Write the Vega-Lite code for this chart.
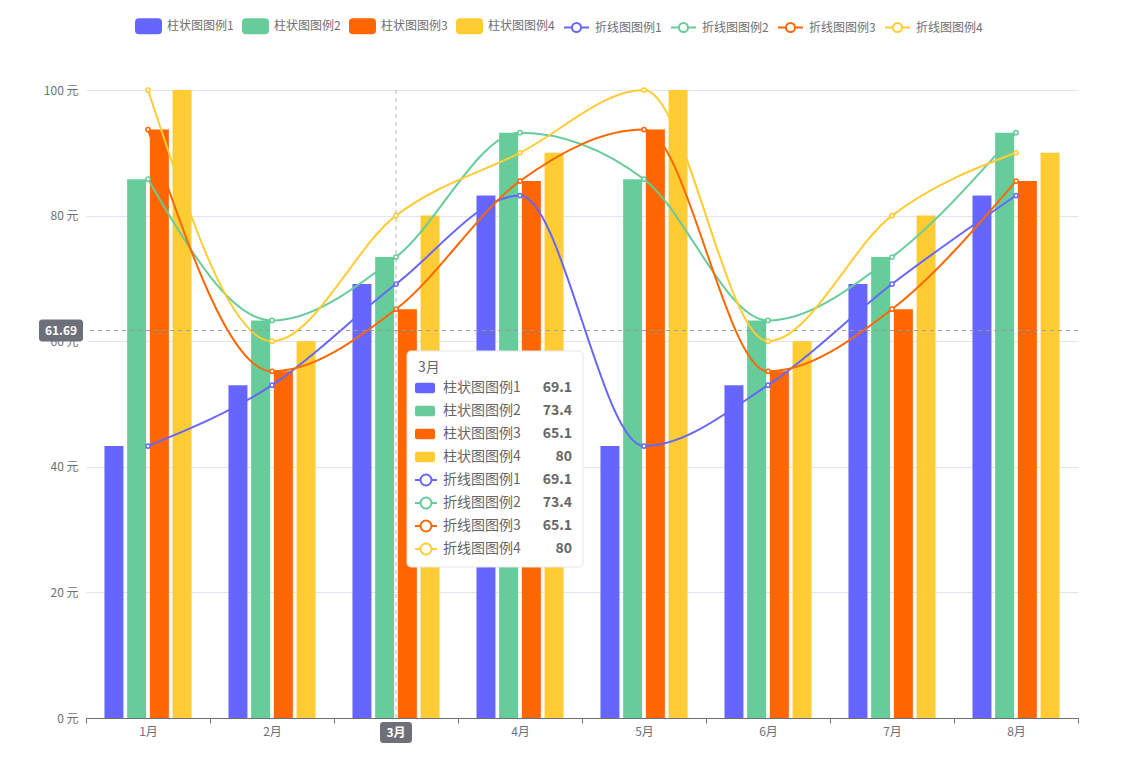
{
  "$schema": "https://vega.github.io/schema/vega-lite/v6.json",
  "width": 992,
  "height": 628,
  "autosize": {"type": "none"},
  "padding": {"left": 86, "top": 90, "right": 58, "bottom": 49},
  "background": "#ffffff",
  "config": {
    "view": {"stroke": null},
    "font": "Noto Sans CJK SC",
    "text": {"font": "Noto Sans CJK SC"},
    "axis": {"labelFont": "Noto Sans CJK SC"},
    "legend": {"labelFont": "Noto Sans CJK SC"}
  },
  "datasets": {
    "main": [
      {"month": "1月", "kind": "bar", "series": "柱状图图例1", "value": 43.3},
      {"month": "1月", "kind": "bar", "series": "柱状图图例2", "value": 85.8},
      {"month": "1月", "kind": "bar", "series": "柱状图图例3", "value": 93.7},
      {"month": "1月", "kind": "bar", "series": "柱状图图例4", "value": 100},
      {"month": "1月", "kind": "line", "series": "折线图图例1", "value": 43.3},
      {"month": "1月", "kind": "line", "series": "折线图图例2", "value": 85.8},
      {"month": "1月", "kind": "line", "series": "折线图图例3", "value": 93.7},
      {"month": "1月", "kind": "line", "series": "折线图图例4", "value": 100},
      {"month": "2月", "kind": "bar", "series": "柱状图图例1", "value": 53},
      {"month": "2月", "kind": "bar", "series": "柱状图图例2", "value": 63.3},
      {"month": "2月", "kind": "bar", "series": "柱状图图例3", "value": 55.2},
      {"month": "2月", "kind": "bar", "series": "柱状图图例4", "value": 60},
      {"month": "2月", "kind": "line", "series": "折线图图例1", "value": 53},
      {"month": "2月", "kind": "line", "series": "折线图图例2", "value": 63.3},
      {"month": "2月", "kind": "line", "series": "折线图图例3", "value": 55.2},
      {"month": "2月", "kind": "line", "series": "折线图图例4", "value": 60},
      {"month": "3月", "kind": "bar", "series": "柱状图图例1", "value": 69.1},
      {"month": "3月", "kind": "bar", "series": "柱状图图例2", "value": 73.4},
      {"month": "3月", "kind": "bar", "series": "柱状图图例3", "value": 65.1},
      {"month": "3月", "kind": "bar", "series": "柱状图图例4", "value": 80},
      {"month": "3月", "kind": "line", "series": "折线图图例1", "value": 69.1},
      {"month": "3月", "kind": "line", "series": "折线图图例2", "value": 73.4},
      {"month": "3月", "kind": "line", "series": "折线图图例3", "value": 65.1},
      {"month": "3月", "kind": "line", "series": "折线图图例4", "value": 80},
      {"month": "4月", "kind": "bar", "series": "柱状图图例1", "value": 83.2},
      {"month": "4月", "kind": "bar", "series": "柱状图图例2", "value": 93.2},
      {"month": "4月", "kind": "bar", "series": "柱状图图例3", "value": 85.5},
      {"month": "4月", "kind": "bar", "series": "柱状图图例4", "value": 90},
      {"month": "4月", "kind": "line", "series": "折线图图例1", "value": 83.2},
      {"month": "4月", "kind": "line", "series": "折线图图例2", "value": 93.2},
      {"month": "4月", "kind": "line", "series": "折线图图例3", "value": 85.5},
      {"month": "4月", "kind": "line", "series": "折线图图例4", "value": 90},
      {"month": "5月", "kind": "bar", "series": "柱状图图例1", "value": 43.3},
      {"month": "5月", "kind": "bar", "series": "柱状图图例2", "value": 85.8},
      {"month": "5月", "kind": "bar", "series": "柱状图图例3", "value": 93.7},
      {"month": "5月", "kind": "bar", "series": "柱状图图例4", "value": 100},
      {"month": "5月", "kind": "line", "series": "折线图图例1", "value": 43.3},
      {"month": "5月", "kind": "line", "series": "折线图图例2", "value": 85.8},
      {"month": "5月", "kind": "line", "series": "折线图图例3", "value": 93.7},
      {"month": "5月", "kind": "line", "series": "折线图图例4", "value": 100},
      {"month": "6月", "kind": "bar", "series": "柱状图图例1", "value": 53},
      {"month": "6月", "kind": "bar", "series": "柱状图图例2", "value": 63.3},
      {"month": "6月", "kind": "bar", "series": "柱状图图例3", "value": 55.2},
      {"month": "6月", "kind": "bar", "series": "柱状图图例4", "value": 60},
      {"month": "6月", "kind": "line", "series": "折线图图例1", "value": 53},
      {"month": "6月", "kind": "line", "series": "折线图图例2", "value": 63.3},
      {"month": "6月", "kind": "line", "series": "折线图图例3", "value": 55.2},
      {"month": "6月", "kind": "line", "series": "折线图图例4", "value": 60},
      {"month": "7月", "kind": "bar", "series": "柱状图图例1", "value": 69.1},
      {"month": "7月", "kind": "bar", "series": "柱状图图例2", "value": 73.4},
      {"month": "7月", "kind": "bar", "series": "柱状图图例3", "value": 65.1},
      {"month": "7月", "kind": "bar", "series": "柱状图图例4", "value": 80},
      {"month": "7月", "kind": "line", "series": "折线图图例1", "value": 69.1},
      {"month": "7月", "kind": "line", "series": "折线图图例2", "value": 73.4},
      {"month": "7月", "kind": "line", "series": "折线图图例3", "value": 65.1},
      {"month": "7月", "kind": "line", "series": "折线图图例4", "value": 80},
      {"month": "8月", "kind": "bar", "series": "柱状图图例1", "value": 83.2},
      {"month": "8月", "kind": "bar", "series": "柱状图图例2", "value": 93.2},
      {"month": "8月", "kind": "bar", "series": "柱状图图例3", "value": 85.5},
      {"month": "8月", "kind": "bar", "series": "柱状图图例4", "value": 90},
      {"month": "8月", "kind": "line", "series": "折线图图例1", "value": 83.2},
      {"month": "8月", "kind": "line", "series": "折线图图例2", "value": 93.2},
      {"month": "8月", "kind": "line", "series": "折线图图例3", "value": 85.5},
      {"month": "8月", "kind": "line", "series": "折线图图例4", "value": 90}
    ],
    "pointer": [{"month": "3月", "level": 61.69}]
  },
  "data": {"name": "main"},
  "resolve": {"scale": {"y": "independent"}},
  "layer": [
    {
      "layer": [
        {
          "transform": [{"filter": "datum.kind == 'bar'"}],
          "mark": {"type": "bar"},
          "encoding": {
            "x": {
              "field": "month", "type": "nominal", "title": null,
              "scale": {"domain": ["1月", "2月", "3月", "4月", "5月", "6月", "7月", "8月"], "paddingInner": 0, "paddingOuter": 0},
              "axis": {"title": null, "tickBand": "extent", "domainColor": "#6E7079", "tickColor": "#6E7079", "tickSize": 5, "labelColor": "#6E7079", "labelFontSize": 12, "labelPadding": 3, "grid": false, "labelAngle": 0}
            },
            "xOffset": {
              "field": "series", "type": "nominal",
              "scale": {"domain": ["柱状图图例1", "柱状图图例2", "柱状图图例3", "柱状图图例4"], "paddingInner": 0.163, "paddingOuter": 0.813}
            },
            "y": {
              "field": "value", "type": "quantitative", "title": null,
              "scale": {"domain": [0, 100], "nice": false},
              "axis": {"title": null, "values": [0, 20, 40, 60, 80, 100], "labelExpr": "datum.value + ' 元'", "domain": false, "ticks": false, "tickSize": 0, "labelPadding": 8, "labelColor": "#6E7079", "labelFontSize": 12, "grid": true, "gridColor": "#E0E6F1"}
            },
            "color": {
              "field": "series", "type": "nominal",
              "scale": {
                "domain": ["柱状图图例1", "柱状图图例2", "柱状图图例3", "柱状图图例4", "折线图图例1", "折线图图例2", "折线图图例3", "折线图图例4"],
                "range": ["#6666FF", "#66CC99", "#FF6600", "#FFCC33", "#6666FF", "#66CC99", "#FF6600", "#FFCC33"]
              },
              "legend": {
                "orient": "none", "legendX": 49, "legendY": -77.5, "direction": "horizontal", "columns": 8,
                "title": null, "symbolSize": 625, "labelFontSize": 12, "labelColor": "#707070", "labelOffset": 5,
                "columnPadding": 5, "padding": 0, "symbolStrokeWidth": 2,
                "encode": {
                  "symbols": {
                    "update": {
                      "shape": [
                        {"test": "indexof(datum.value, '柱') >= 0", "value": "M-0.76,-0.56L0.76,-0.56Q1,-0.56,1,-0.32L1,0.32Q1,0.56,0.76,0.56L-0.76,0.56Q-1,0.56,-1,0.32L-1,-0.32Q-1,-0.56,-0.76,-0.56Z"},
                        {"value": "M-1,0L-0.36,0M0.36,0L1,0M-0.36,0A0.36,0.36,0,1,0,0.36,0A0.36,0.36,0,1,0,-0.36,0Z"}
                      ],
                      "fill": {"signal": "indexof(datum.value, '柱') >= 0 ? scale('color', datum.value) : '#ffffff'"},
                      "fillOpacity": [
                        {"test": "indexof(datum.value, '柱') >= 0", "value": 1},
                        {"value": 0}
                      ],
                      "stroke": [
                        {"test": "indexof(datum.value, '柱') >= 0", "value": "transparent"},
                        {"scale": "color", "field": "value"}
                      ],
                      "strokeWidth": {"value": 2},
                      "opacity": {"value": 1}
                    }
                  }
                }
              }
            }
          }
        },
        {
          "transform": [{"filter": "datum.kind == 'line'"}],
          "mark": {"type": "line", "interpolate": "monotone", "strokeWidth": 2},
          "encoding": {
            "x": {"field": "month", "type": "nominal"},
            "y": {"field": "value", "type": "quantitative"},
            "color": {"field": "series", "type": "nominal"}
          }
        },
        {
          "transform": [{"filter": "datum.kind == 'line'"}],
          "mark": {"type": "point", "filled": false, "fill": "#ffffff", "fillOpacity": 1, "opacity": 1, "strokeWidth": 1.5, "size": 18},
          "encoding": {
            "x": {"field": "month", "type": "nominal"},
            "y": {"field": "value", "type": "quantitative"},
            "color": {"field": "series", "type": "nominal"}
          }
        },
        {
          "data": {"name": "pointer"},
          "mark": {"type": "rule", "color": "#B4B4B4", "strokeDash": [4, 4], "strokeWidth": 1},
          "encoding": {"x": {"field": "month", "type": "nominal"}}
        },
        {
          "data": {"name": "pointer"},
          "mark": {"type": "rule", "color": "#999999", "strokeDash": [4, 4], "strokeWidth": 1},
          "encoding": {"y": {"field": "level", "type": "quantitative"}}
        },
        {
          "data": {"name": "pointer"},
          "mark": {"type": "rect", "fill": "#6E7079", "cornerRadius": 3, "xOffset": -109, "x2Offset": -65, "yOffset": -11, "y2Offset": 11},
          "encoding": {
            "x": {"datum": "1月", "bandPosition": 0.5},
            "x2": {"datum": "1月", "bandPosition": 0.5},
            "y": {"field": "level", "type": "quantitative"},
            "y2": {"field": "level"}
          }
        },
        {
          "data": {"name": "pointer"},
          "mark": {"type": "text", "color": "#ffffff", "fontSize": 12, "fontWeight": "bold", "align": "center", "baseline": "middle", "xOffset": -87},
          "encoding": {
            "x": {"datum": "1月"},
            "y": {"field": "level", "type": "quantitative"},
            "text": {"field": "level", "type": "quantitative", "format": ".2f"}
          }
        },
        {
          "data": {"name": "pointer"},
          "mark": {"type": "rect", "fill": "#6E7079", "cornerRadius": 3, "xOffset": -16, "x2Offset": 16, "yOffset": 4, "y2Offset": 25},
          "encoding": {
            "x": {"field": "month", "type": "nominal", "bandPosition": 0.5},
            "x2": {"field": "month", "bandPosition": 0.5},
            "y": {"datum": 0, "type": "quantitative"},
            "y2": {"datum": 0}
          }
        },
        {
          "data": {"name": "pointer"},
          "mark": {"type": "text", "color": "#ffffff", "fontSize": 12, "fontWeight": "bold", "align": "center", "baseline": "middle", "yOffset": 14.5},
          "encoding": {
            "x": {"field": "month", "type": "nominal"},
            "y": {"datum": 0, "type": "quantitative"},
            "text": {"field": "month"}
          }
        }
      ]
    },
    {
      "transform": [{"filter": "datum.month == '3月'"}],
      "layer": [
        {
          "transform": [{"aggregate": [], "groupby": ["month"]}],
          "mark": {"type": "rect", "fill": "#ffffff", "stroke": "#E6E6E6", "strokeWidth": 1, "cornerRadius": 4, "xOffset": 11, "x2Offset": 187, "yOffset": -14, "y2Offset": 18},
          "encoding": {
            "x": {"field": "month", "type": "nominal", "bandPosition": 0.5},
            "x2": {"field": "month", "bandPosition": 0.5},
            "y": {"field": "month", "type": "nominal", "axis": null, "scale": {"type": "point", "domain": ["3月", "柱状图图例1", "柱状图图例2", "柱状图图例3", "柱状图图例4", "折线图图例1", "折线图图例2", "折线图图例3", "折线图图例4"], "range": [275, 459], "padding": 0}},
            "y2": {"datum": "折线图图例4"}
          }
        },
        {
          "transform": [{"aggregate": [], "groupby": ["month"]}],
          "mark": {"type": "text", "fontSize": 14, "color": "#666666", "align": "left", "baseline": "middle", "xOffset": 22, "yOffset": 3},
          "encoding": {
            "x": {"field": "month", "type": "nominal"},
            "y": {"field": "month", "type": "nominal", "axis": null},
            "text": {"field": "month"}
          }
        },
        {
          "transform": [{"filter": "datum.kind == 'bar'"}],
          "mark": {"type": "point", "filled": true, "opacity": 1, "size": 400, "strokeWidth": 0, "xOffset": 29, "shape": "M-0.8,-0.53L0.8,-0.53Q1,-0.53,1,-0.33L1,0.33Q1,0.53,0.8,0.53L-0.8,0.53Q-1,0.53,-1,0.33L-1,-0.33Q-1,-0.53,-0.8,-0.53Z"},
          "encoding": {
            "x": {"field": "month", "type": "nominal"},
            "y": {"field": "series", "type": "nominal", "axis": null},
            "color": {"field": "series", "type": "nominal"}
          }
        },
        {
          "transform": [{"filter": "datum.kind == 'line'"}],
          "mark": {"type": "point", "filled": false, "fill": "#ffffff", "fillOpacity": 1, "opacity": 1, "size": 484, "strokeWidth": 2, "xOffset": 30, "shape": "M-1,0L-0.5,0M0.5,0L1,0M-0.5,0A0.5,0.5,0,1,0,0.5,0A0.5,0.5,0,1,0,-0.5,0Z"},
          "encoding": {
            "x": {"field": "month", "type": "nominal"},
            "y": {"field": "series", "type": "nominal", "axis": null},
            "color": {"field": "series", "type": "nominal"}
          }
        },
        {
          "mark": {"type": "text", "fontSize": 14, "color": "#666666", "align": "left", "baseline": "middle", "xOffset": 47},
          "encoding": {
            "x": {"field": "month", "type": "nominal"},
            "y": {"field": "series", "type": "nominal", "axis": null},
            "text": {"field": "series"}
          }
        },
        {
          "mark": {"type": "text", "fontSize": 14, "fontWeight": "bold", "color": "#666666", "align": "right", "baseline": "middle", "xOffset": 176},
          "encoding": {
            "x": {"field": "month", "type": "nominal"},
            "y": {"field": "series", "type": "nominal", "axis": null},
            "text": {"field": "value", "type": "quantitative"}
          }
        }
      ]
    }
  ]
}
